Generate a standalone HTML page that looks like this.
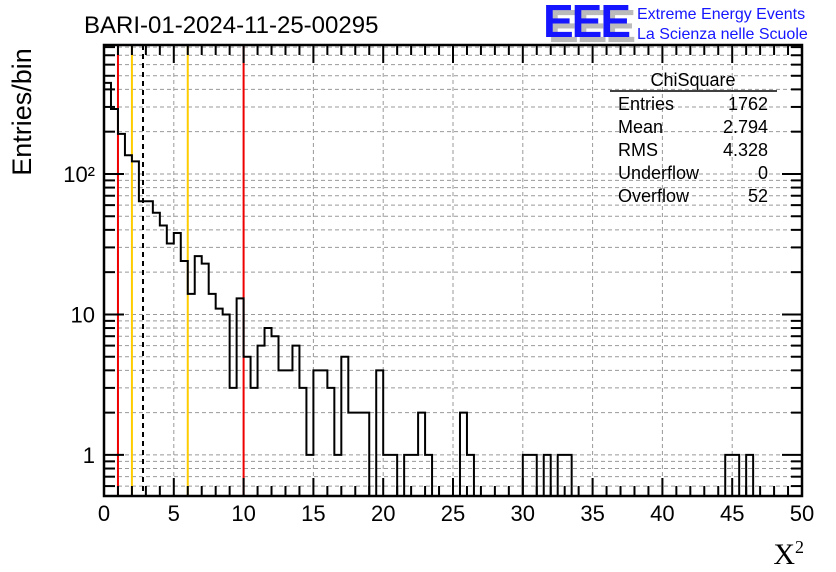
<!DOCTYPE html>
<html><head><meta charset="utf-8"><style>
body{margin:0;background:#fff;}
svg{display:block;font-family:"Liberation Sans",sans-serif;}
</style></head><body>
<svg id="c" width="836" height="572">
<rect width="836" height="572" fill="#fff"/>
<text x="84" y="33" font-size="24">BARI-01-2024-11-25-00295</text>
<g>
<text x="548" y="42" font-size="46" font-weight="bold" fill="#bbb" letter-spacing="-2">EEE</text>
<text x="543" y="37" font-size="46" font-weight="bold" fill="#1515ff" letter-spacing="-2">EEE</text>
<text x="637" y="19" font-size="16" fill="#1515ff">Extreme Energy Events</text>
<text x="637" y="39" font-size="16" fill="#1515ff">La Scienza nelle Scuole</text>
</g>
<g id="grid"></g><g id="vl"></g><g id="hist"></g><g id="axes"></g>
<g font-size="18">
<text x="693" y="86" text-anchor="middle">ChiSquare</text>
<line x1="610" y1="91" x2="777" y2="91" stroke="#000" stroke-width="1.5"/>
<text x="618" y="110">Entries</text><text x="768" y="110" text-anchor="end">1762</text>
<text x="618" y="133">Mean</text><text x="768" y="133" text-anchor="end">2.794</text>
<text x="618" y="156">RMS</text><text x="768" y="156" text-anchor="end">4.328</text>
<text x="618" y="179">Underflow</text><text x="768" y="179" text-anchor="end">0</text>
<text x="618" y="202">Overflow</text><text x="768" y="202" text-anchor="end">52</text>
</g>
<text x="31" y="112" font-size="27" transform="rotate(-90 31 112)" text-anchor="middle">Entries/bin</text>
<text x="804" y="564" font-size="30" font-family="Liberation Serif,serif" text-anchor="end">X<tspan font-size="18" dy="-11">2</tspan></text>
</svg>
<script>
const counts=[445,290,193,136,123,64,64,53,43,32,38,24,14,26,23,14,11,10,3,13,5,3,6,8,7,4,4,6,3,1,4,4,3,1,5,2,2,2,0,4,1,1,0,1,1,2,1,0,0,0,0,2,1,0,0,0,0,0,0,0,1,1,0,1,0,1,1,0,0,0,0,0,0,0,0,0,0,0,0,0,0,0,0,0,0,0,0,0,0,1,1,0,1,0,0,0,0,0,0,0];
const xTicks=[0,5,10,15,20,25,30,35,40,45,50];
const yTickLabels=["1","10","10²"];
const markerLines=[{x:1,c:"#e00"},{x:2,c:"#fc0"},{x:6,c:"#fc0"},{x:10,c:"#e00"},{x:2.794,c:"#000",d:"5,4"}];
const binW=0.5;
const X0=104,X1=802,Y0=45,Y1=496;
const lmin=Math.log10(0.51),lmax=Math.log10(828);
const xs=v=>X0+(v/50)*(X1-X0);
const ys=v=>Y1-(Math.log10(v)-lmin)/(lmax-lmin)*(Y1-Y0);
const NS="http://www.w3.org/2000/svg";
function mk(p,t,a){const e=document.createElementNS(NS,t);for(const k in a)e.setAttribute(k,a[k]);p.appendChild(e);return e;}
const grid=document.getElementById('grid'),axes=document.getElementById('axes');
const yvals=[0.6,0.7,0.8,0.9];
for(let d=1;d<=100;d*=10)for(let m=1;m<=9;m++)yvals.push(m*d);
yvals.forEach(v=>{if(v>828)return;const y=ys(v);
const g=mk(grid,'line',{x1:X0,x2:X1,y1:y,y2:y,stroke:'#999','stroke-dasharray':'4,3'});


const big=[1,10,100].includes(v);const L=big?20:11;
mk(axes,'line',{x1:X0,x2:X0+L,y1:y,y2:y,stroke:'#000','stroke-width':2});
mk(axes,'line',{x1:X1-L,x2:X1,y1:y,y2:y,stroke:'#000','stroke-width':2});
});
[1,10,100].forEach((v,i)=>{const t=mk(axes,'text',{x:X0-9,y:ys(v)+8,'font-size':22,'text-anchor':'end'});t.textContent=yTickLabels[i];

});
xTicks.forEach(v=>{const x=xs(v);
if(v>0&&v<50){const g=mk(grid,'line',{x1:x,x2:x,y1:Y0,y2:Y1,stroke:'#999','stroke-dasharray':'4,3'});

}
const t=mk(axes,'text',{x:x,y:521,'font-size':22,'text-anchor':'middle'});t.textContent=v;

});
for(let v=0;v<=50;v++){const x=xs(v),L=v%5==0?18:10;
mk(axes,'line',{x1:x,x2:x,y1:Y1,y2:Y1-L,stroke:'#000','stroke-width':2});
mk(axes,'line',{x1:x,x2:x,y1:Y0,y2:Y0+L,stroke:'#000','stroke-width':2});}
mk(axes,'rect',{x:X0,y:Y0,width:X1-X0,height:Y1-Y0,fill:'none',stroke:'#000','stroke-width':2.5});
const vl=document.getElementById('vl');
markerLines.forEach(m=>{const a={x1:xs(m.x),x2:xs(m.x),y1:Y0,y2:Y1,stroke:m.c,'stroke-width':2};if(m.d)a['stroke-dasharray']=m.d;
const l=mk(vl,'line',a);

});
let d='';
counts.forEach((c,i)=>{const x=xs(i*binW),x2=xs((i+1)*binW);const y=c>0?ys(c):Y1;
d+=(i==0?`M${x},${y}`:`L${x},${y}`)+`L${x2},${y}`;});
const h=mk(document.getElementById('hist'),'path',{d:d,fill:'none',stroke:'#000','stroke-width':2});


</script>
</body></html>
